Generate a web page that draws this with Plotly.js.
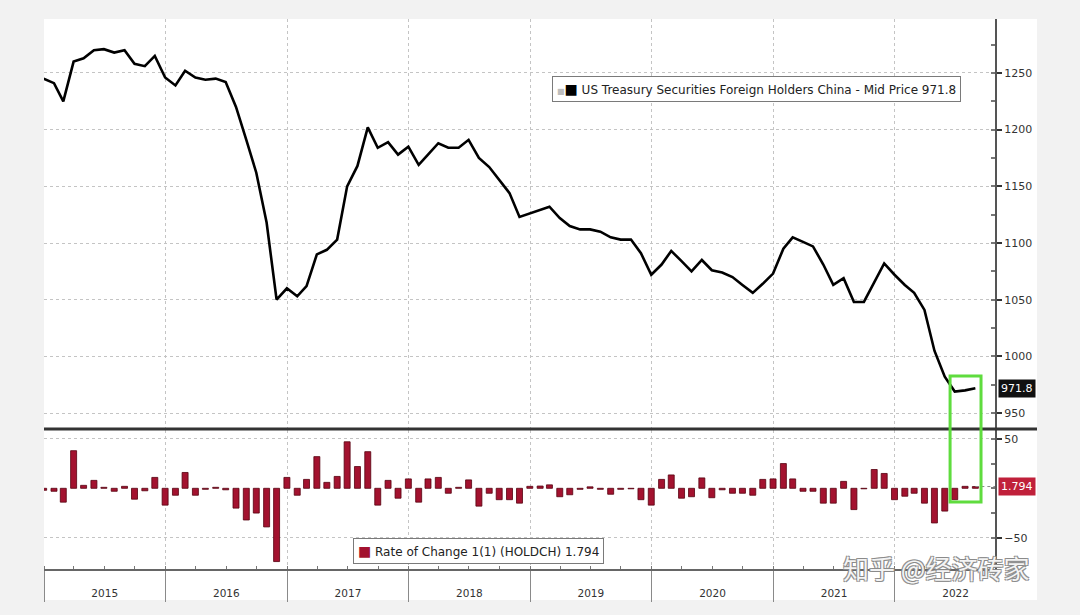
<!DOCTYPE html>
<html>
<head>
<meta charset="utf-8">
<script src="https://cdn.plot.ly/plotly-3.0.1.min.js"></script>
<style>html,body{margin:0;padding:0;background:#f2f2f2;}#chart{width:1080px;height:615px;}</style>
</head>
<body>
<div id="chart"></div>
<script>
// ---- Data ----
// US Treasury securities held by China, USD bn, month-end values, Dec 2014 .. Aug 2022
const holdings2014 = [1245];
const holdings2015 = [1241, 1225, 1260, 1263, 1270, 1271, 1268, 1270, 1258, 1256, 1265, 1246];
const holdings2016 = [1239, 1252, 1246, 1244, 1245, 1242, 1220, 1191, 1162, 1118, 1050, 1060];
const holdings2017 = [1053, 1062, 1090, 1094, 1103, 1150, 1168, 1202, 1184, 1189, 1178, 1185];
const holdings2018 = [1169, 1178, 1188, 1184, 1184, 1191, 1175, 1167, 1156, 1144, 1123, 1126];
const holdings2019 = [1129, 1132, 1122, 1115, 1112, 1112, 1110, 1105, 1103, 1103, 1091, 1072];
const holdings2020 = [1081, 1093, 1084, 1075, 1085, 1076, 1074, 1070, 1063, 1056, 1064, 1073];
const holdings2021 = [1095, 1105, 1101, 1097, 1081, 1063, 1069, 1048, 1048, 1065, 1082, 1072];
const holdings2022 = [1063, 1056, 1041, 1005, 982, 969, 970, 971.8];

// Rate of change 1(1) (HOLDCH), month over month
const change2014 = [-2];
const change2015 = [-3, -14, 38, 3, 8, 1, -3, 2, -11, -2.5, 11, -17];
const change2016 = [-7, 16, -7, -1, 1, -1.5, -20, -32, -25, -39, -74, 11];
const change2017 = [-7, 9, 32, 6, 12, 47, 22, 37, -17, 8, -10, 9.5];
const change2018 = [-14, 9.5, 11, -5, 1, 8.5, -18, -5, -11.5, -11.5, -15, 2];
const change2019 = [2.3, 3.5, -8.5, -6.5, -1, 1.5, -1, -6, -1, -0.5, -11.5, -17];
const change2020 = [9, 13.5, -10, -8.5, 10.5, -9.5, -1.5, -5, -5, -7, 9, 9.5];
const change2021 = [25, 9.5, -3, -3, -15, -15, 7, -21.5, -0.5, 19, 15, -11.5];
const change2022 = [-8, -5, -15, -35, -23, -11.5, 2, 1.794];

const firstYear = 2014, firstMonth = 12;
const lineName = 'US Treasury Securities Foreign Holders China - Mid Price';
const barName = 'Rate of Change 1(1) (HOLDCH)';
const watermarkText = '知乎 @经济砖家';
const lowerTickVals = [-50, 50];

const holdings = [].concat(holdings2014, holdings2015, holdings2016, holdings2017,
  holdings2018, holdings2019, holdings2020, holdings2021, holdings2022);
const changes = [].concat(change2014, change2015, change2016, change2017,
  change2018, change2019, change2020, change2021, change2022);

// month-end dates for each observation
const dates = holdings.map((_, i) => {
  const m0 = (firstMonth - 1) + i;
  const y = firstYear + Math.floor(m0 / 12);
  const m = (m0 % 12) + 1;
  return new Date(Date.UTC(y, m, 0)).toISOString().slice(0, 10);
});

const lastHold = holdings[holdings.length - 1];
const lastChg = changes[changes.length - 1];
const lastDate = dates[dates.length - 1];

// ---- Geometry helpers ----
const W = 1080, H = 615;
const M = {l: 44, r: 85, t: 19, b: 46};
const PW = W - M.l - M.r, PH = H - M.t - M.b;
const px2fx = x => (x - M.l) / PW;
const py2fy = y => (H - M.b - y) / PH;

const FONT = 'DejaVu Sans, Verdana, sans-serif';
const gridC = '#c4c4c4';

const lineTrace = {
  type: 'scatter', mode: 'lines', x: dates, y: holdings, name: lineName,
  xaxis: 'x', yaxis: 'y', line: {color: '#000', width: 2.6}, showlegend: false
};
const barTrace = {
  type: 'bar', x: dates, y: changes, name: barName, xaxis: 'x', yaxis: 'y2',
  width: 18 * 86400000,
  marker: {color: '#a3122f', line: {color: '#55000f', width: 0.8}}, showlegend: false
};

const layout = {
  width: W, height: H,
  margin: M,
  paper_bgcolor: '#f2f2f2',
  plot_bgcolor: 'rgba(0,0,0,0)',
  font: {family: FONT, size: 11, color: '#333'},
  showlegend: false,
  xaxis: {
    type: 'date', anchor: 'y2', domain: [0, 1],
    range: ['2015-01-01', '2022-10-29'],
    dtick: 'M12', tick0: '2015-01-01', tickformat: '%Y', ticklabelmode: 'period',
    showgrid: true, gridcolor: gridC, griddash: 'dot', gridwidth: 1,
    ticks: 'outside', ticklen: 31, tickcolor: '#8a8a8a', tickwidth: 1,
    ticklabelstandoff: -18,
    showline: true, linecolor: '#666', linewidth: 2,
    minor: {dtick: 'M3', ticks: 'inside', ticklen: 3, tickcolor: '#777', showgrid: false},
    tickfont: {family: FONT, size: 10.5, color: '#333'},
    zeroline: false, fixedrange: true
  },
  yaxis: {
    domain: [py2fy(428), 1], anchor: 'x', side: 'right',
    range: [936.8, 1297.6], dtick: 50, tick0: 0,
    showgrid: true, gridcolor: gridC, griddash: 'dot', gridwidth: 1,
    ticks: 'outside', ticklen: 5, tickwidth: 2, tickcolor: '#333',
    showline: true, linecolor: '#555', linewidth: 2,
    minor: {dtick: 25, ticks: 'inside', ticklen: 4, tickcolor: '#777', showgrid: false},
    tickfont: {family: FONT, size: 11, color: '#333'},
    zeroline: false, fixedrange: true
  },
  yaxis2: {
    domain: [0, py2fy(430)], anchor: 'x', side: 'right',
    range: [-81.5, 58.9], tickmode: 'array', tickvals: lowerTickVals,
    showgrid: true, gridcolor: gridC, griddash: 'dot', gridwidth: 1,
    ticks: 'outside', ticklen: 5, tickwidth: 2, tickcolor: '#333',
    showline: true, linecolor: '#555', linewidth: 2,
    minor: {dtick: 25, tick0: 0, ticks: 'inside', ticklen: 4, tickcolor: '#777', showgrid: false},
    tickfont: {family: FONT, size: 11, color: '#333'},
    zeroline: false, fixedrange: true
  },
  shapes: [
    // white chart card
    {type: 'rect', xref: 'paper', yref: 'paper', x0: 0, x1: px2fx(1037), y0: py2fy(600), y1: 1,
      fillcolor: '#ffffff', line: {width: 0}, layer: 'below'},
    // panel separator
    {type: 'line', xref: 'paper', yref: 'paper', x0: 0, x1: px2fx(1037), y0: py2fy(429), y1: py2fy(429),
      line: {color: '#333', width: 3}, layer: 'above'},
    // last-value guide to the tag
    {type: 'line', xref: 'x', yref: 'y2', x0: lastDate, x1: '2022-10-29', y0: lastChg, y1: lastChg,
      line: {color: '#888', width: 1, dash: 'dot'}, layer: 'above'},
    // green highlight box
    {type: 'rect', xref: 'x', yref: 'paper', x0: '2022-06-16', x1: '2022-09-17',
      y0: py2fy(502), y1: py2fy(376), line: {color: '#5fdc3e', width: 3}, fillcolor: 'rgba(0,0,0,0)', layer: 'above'}
  ],
  annotations: [
    {xref: 'paper', yref: 'paper', x: px2fx(552), y: py2fy(76), xanchor: 'left', yanchor: 'top',
      text: '<span style="color:#bdbdbd;font-size:8px">■</span><span style="color:#000;font-size:14px">■</span> ' + lineName + ' ' + lastHold.toFixed(1),
      showarrow: false, align: 'left', bgcolor: '#ffffff', bordercolor: '#7a7a7a', borderwidth: 1, borderpad: 4,
      font: {family: FONT, size: 12, color: '#222'}},
    {xref: 'paper', yref: 'paper', x: px2fx(353), y: py2fy(538), xanchor: 'left', yanchor: 'top',
      text: '<span style="color:#a3122f;font-size:14px">■</span> ' + barName + ' ' + lastChg.toFixed(3),
      showarrow: false, align: 'left', bgcolor: '#ffffff', bordercolor: '#7a7a7a', borderwidth: 1, borderpad: 4,
      font: {family: FONT, size: 12, color: '#222'}},
    {xref: 'paper', yref: 'y', x: 1.003, y: lastHold, xanchor: 'left', yanchor: 'middle',
      text: lastHold.toFixed(1), showarrow: false, bgcolor: '#111', borderpad: 2,
      font: {family: FONT, size: 11, color: '#fff'}},
    {xref: 'paper', yref: 'y2', x: 1.003, y: lastChg, xanchor: 'left', yanchor: 'middle',
      text: lastChg.toFixed(3), showarrow: false, bgcolor: '#c0203a', borderpad: 2,
      font: {family: FONT, size: 11, color: '#fff'}},
    {xref: 'paper', yref: 'paper', x: px2fx(936), y: py2fy(567), xanchor: 'center', yanchor: 'middle',
      text: watermarkText, showarrow: false,
      font: {family: 'Noto Sans CJK SC', size: 26, color: 'rgba(255,255,255,0.92)',
        shadow: '1px 1px 0 #8a8a8a, -1px -1px 0 #8a8a8a, 1px -1px 0 #8a8a8a, -1px 1px 0 #8a8a8a'}}
  ]
};

Plotly.newPlot('chart', [lineTrace, barTrace], layout, {displayModeBar: false, staticPlot: true});
</script>
</body>
</html>
